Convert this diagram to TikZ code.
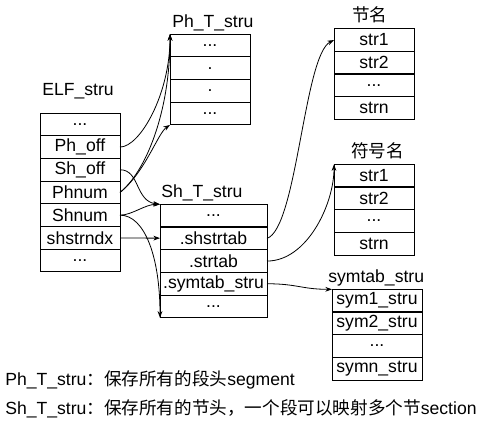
\documentclass[tikz,border=0pt]{standalone}
\usepackage{fontspec}
\setmainfont{Liberation Sans}
\newfontfamily\cjk{Noto Sans CJK SC}
\usetikzlibrary{arrows.meta,positioning}
\newcommand{\threedots}{...}

\begin{document}
\begin{tikzpicture}[x=0.75pt,y=-0.75pt,>={Stealth[length=5pt,width=3.6pt]},
	every node/.style={font=\fontsize{13.2pt}{15pt}\selectfont},
	cell/.style={draw,line width=0.75pt,inner sep=0pt,outer sep=0pt,minimum height=17pt,minimum width=60pt},
	title/.style={anchor=base west,inner sep=0pt},
	link/.style={->,line width=0.6pt}]
	\useasboundingbox (0,0) rectangle (493,425);

	% ELF_stru
	\node[title] (elft) at (42,95) {ELF\_stru};
	\foreach \t [count=\i] in {\threedots,Ph\_off,Sh\_off,Phnum,Shnum,shstrndx,\threedots}
		\node[cell] (elf\i) at (80,{113+22.7*(\i-0.5)}) {\t};

	% Ph_T_stru
	\node[title] (pht) at (172,27) {Ph\_T\_stru};
	\foreach \t [count=\i] in {\threedots,.,.,\threedots}
		\node[cell] (ph\i) at (210,{34+22.75*(\i-0.5)}) {\t};

	% Sh_T_stru
	\node[title] (sht) at (161,197) {Sh\_T\_stru};
	\foreach \t [count=\i] in {\threedots,.shstrtab,.strtab,.symtab\_stru,\threedots}
		\node[cell,minimum width=80.25pt] (sh\i) at (213.5,{204.3+22.7*(\i-0.5)}) {\t};

	% section names
	\node[title] (sect) at (352,21) {\cjk 节名};
	\foreach \t [count=\i] in {str1,str2,\threedots,strn}
		\node[cell] (sec\i) at (374,{28.7+22.65*(\i-0.5)}) {\t};

	% symbol names
	\node[title] (stt) at (351,157) {\cjk 符号名};
	\foreach \t [count=\i] in {str1,str2,\threedots,strn}
		\node[cell] (st\i) at (374,{164.3+22.7*(\i-0.5)}) {\t};

	% symtab_stru
	\node[title] (symt) at (328,282) {symtab\_stru};
	\foreach \t [count=\i] in {sym1\_stru,sym2\_stru,\threedots,symn\_stru}
		\node[cell,minimum width=67.5pt] (sym\i) at (377,{289.3+22.7*(\i-0.5)}) {\t};

	% notes
	\node[title] (noteph) at (5,385) {Ph\_T\_stru{\cjk ：保存所有的段头}segment};
	\node[title] (notesh) at (5,414) {Sh\_T\_stru{\cjk ：保存所有的节头，一个段可以映射多个节}section};

	\draw[link] (elf2.east) .. controls +(20,0) and +(0,60) .. (ph1.north west);
	\draw[link] (elf4.east) .. controls +(25,-20) and +(0,80) .. (ph1.north west);
	\draw[link] (elf4.east) .. controls +(25,-20) and +(-12,8) .. (ph4.south west);
	\draw[link] (elf3.east) .. controls +(20,0) and +(-25,-3) .. (sh1.north west);
	\draw[link] (elf5.east) .. controls +(12,0) and +(-15,0) .. (sh1.north west);
	\draw[link] (elf5.east) .. controls +(25,0) and +(0,-60) .. (sh5.south west);
	\draw[link] (elf6) -- (sh2);
	\draw[link] (sh2.east) .. controls +(30,-10) and +(-30,15) .. (sec1.west);
	\draw[link] (sh3.east) .. controls +(40,0) and +(0,40) .. (st1.north west);
	\draw[link] (sh4.east) .. controls +(30,0) and +(-30,0) .. (sym1.north west);
\end{tikzpicture}
\end{document}
